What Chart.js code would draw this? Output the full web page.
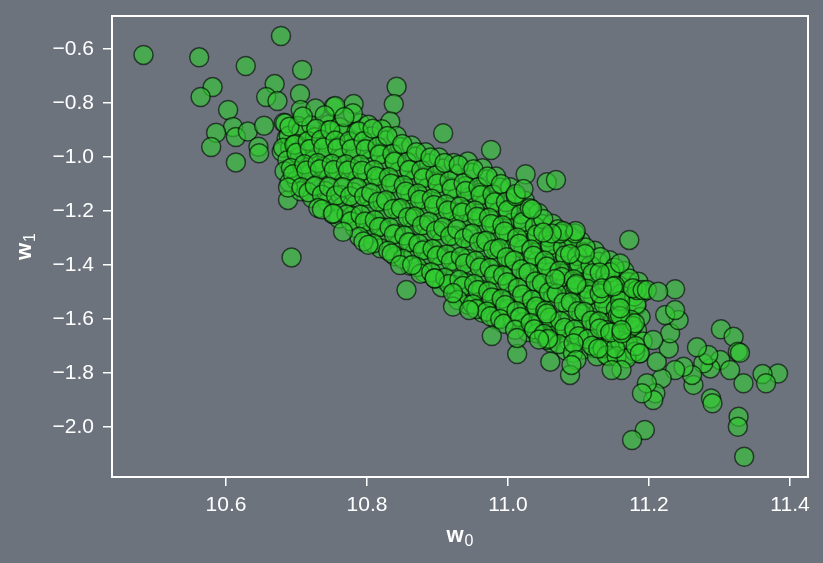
<!DOCTYPE html>
<html>
<head>
<meta charset="utf-8">
<script src="https://cdn.jsdelivr.net/npm/chart.js@4/dist/chart.umd.min.js"></script>
<style>
  html, body { margin: 0; padding: 0; background: #6c737d; }
  #wrap { width: 823px; height: 563px; }
</style>
</head>
<body>
<div id="wrap"><canvas id="posterior"></canvas></div>
<script>
// posterior draws of (w0, w1)
const upperTail = [
  [10.483,-0.622],[10.562,-0.631],[10.678,-0.552],[10.628,-0.663],[10.708,-0.678],
  [10.581,-0.741],[10.564,-0.778],[10.669,-0.730],[10.657,-0.778],[10.673,-0.793],
  [10.705,-0.767],[10.706,-0.826],[10.603,-0.826],[10.610,-0.889],[10.586,-0.910],
  [10.579,-0.963],[10.614,-0.926],[10.631,-0.906],[10.646,-0.962],[10.647,-0.986],
  [10.614,-1.020],[10.654,-0.884],[10.682,-0.873],[10.686,-0.931],[10.679,-0.980],
  [10.691,-0.966],[10.695,-1.054],[10.727,-0.820],[10.753,-0.814],[10.745,-0.881],
  [10.719,-0.919],[10.745,-0.949],[10.717,-1.017],[10.738,-1.036],[10.842,-0.740],
  [10.838,-0.804],[10.908,-0.912],[10.976,-0.974],[10.781,-0.804],[10.755,-0.811],
  [10.790,-0.875],[10.833,-0.869],[10.693,-1.372],[10.688,-1.159]
];
const lowerTail = [
  [11.025,-1.064],[11.055,-1.094],[11.068,-1.085],[11.011,-1.137],[11.022,-1.119],
  [11.034,-1.194],[11.096,-1.274],[11.078,-1.274],[11.062,-1.283],[11.050,-1.280],
  [11.172,-1.307],[11.159,-1.394],[11.237,-1.490],[11.302,-1.638],[11.320,-1.666],
  [11.326,-1.721],[11.329,-1.725],[11.383,-1.802],[11.361,-1.804],[11.366,-1.838],
  [11.334,-1.838],[11.327,-1.962],[11.326,-1.999],[11.335,-2.110],[11.194,-2.011],
  [11.176,-2.048],[11.301,-1.752],[11.315,-1.789],[11.288,-1.894],[11.290,-1.912],
  [11.287,-1.783],[11.277,-1.764],[11.284,-1.733],[11.268,-1.705],[11.263,-1.844],
  [11.261,-1.807],[11.249,-1.777],[11.237,-1.789],[11.218,-1.820],[11.209,-1.875],
  [11.206,-1.900],[11.197,-1.838],[11.190,-1.875],[11.211,-1.758],[11.228,-1.709],
  [11.230,-1.653],[11.242,-1.604],[11.223,-1.585],[11.206,-1.678],[11.197,-1.493],
  [11.213,-1.499],[11.237,-1.567]
];
const rimSamples = [
  [11.168,-1.746],[11.161,-1.789],[11.147,-1.789],[11.152,-1.709],[11.130,-1.635],
  [11.128,-1.709],[11.093,-1.690],[11.097,-1.752],[11.088,-1.807],[11.060,-1.758],
  [11.090,-1.770],[11.057,-1.673],[11.055,-1.580],[11.067,-1.452],[11.097,-1.470],
  [11.109,-1.359],[11.088,-1.359],[11.130,-1.506],[11.145,-1.427],[11.152,-1.477],
  [11.159,-1.533],[11.159,-1.589],[11.145,-1.650],[11.181,-1.700],[11.183,-1.493],
  [11.161,-1.653],[11.130,-1.428],[11.133,-1.486],[11.149,-1.480],[11.177,-1.486],
  [11.074,-1.283],[11.095,-1.283],[11.191,-1.493],[11.159,-1.560],[11.180,-1.616],
  [11.187,-1.727],[11.161,-1.641],[10.856,-1.493],[10.766,-1.277],[10.736,-1.194],
  [10.752,-1.209],[10.795,-1.313],[10.802,-1.325],[10.835,-1.357],[10.847,-1.400],
  [10.864,-1.400],[10.896,-1.449],[10.922,-1.554],[10.922,-1.504],[10.977,-1.663],
  [11.013,-1.730],[11.013,-1.670],[11.044,-1.676],[10.945,-1.567]
];
const coreSamples = [
  [10.684,-0.875],[10.689,-0.921],[10.681,-0.966],[10.687,-1.012],[10.683,-1.053],[10.690,-1.094],
  [10.702,-0.885],[10.707,-0.904],[10.699,-0.951],[10.705,-0.997],[10.709,-1.038],[10.700,-1.086],[10.706,-1.127],
  [10.721,-0.883],[10.726,-0.927],[10.718,-0.972],[10.724,-1.013],[10.719,-1.061],[10.727,-1.104],[10.722,-1.152],
  [10.740,-0.845],[10.745,-0.902],[10.737,-0.944],[10.743,-0.991],[10.738,-1.037],[10.746,-1.078],[10.741,-1.126],[10.744,-1.168],
  [10.761,-0.890],[10.766,-0.913],[10.758,-0.962],[10.764,-1.004],[10.759,-1.052],[10.767,-1.093],[10.762,-1.141],[10.765,-1.184],[10.760,-1.228],
  [10.780,-0.838],[10.785,-0.907],[10.777,-0.948],[10.783,-0.996],[10.778,-1.042],[10.786,-1.083],[10.781,-1.131],[10.784,-1.176],[10.779,-1.218],[10.783,-1.262],
  [10.802,-0.881],[10.807,-0.923],[10.799,-0.972],[10.805,-1.014],[10.800,-1.061],[10.808,-1.103],[10.803,-1.152],[10.806,-1.193],[10.801,-1.242],[10.805,-1.283],
  [10.821,-0.897],[10.826,-0.939],[10.818,-0.987],[10.824,-1.028],[10.819,-1.076],[10.827,-1.118],[10.822,-1.166],[10.825,-1.208],[10.820,-1.257],[10.824,-1.298],[10.819,-1.338],
  [10.842,-0.922],[10.847,-0.963],[10.839,-1.012],[10.845,-1.053],[10.840,-1.102],[10.848,-1.143],[10.843,-1.192],[10.846,-1.233],[10.841,-1.282],[10.845,-1.323],[10.840,-1.368],
  [10.863,-0.957],[10.868,-0.998],[10.860,-1.047],[10.866,-1.088],[10.861,-1.137],[10.869,-1.178],[10.864,-1.227],[10.867,-1.268],[10.862,-1.317],[10.866,-1.358],[10.861,-1.403],
  [10.883,-0.982],[10.888,-1.023],[10.880,-1.072],[10.886,-1.113],[10.881,-1.162],[10.889,-1.203],[10.884,-1.252],[10.887,-1.293],[10.882,-1.342],[10.886,-1.383],[10.881,-1.428],
  [10.902,-1.002],[10.907,-1.043],[10.899,-1.092],[10.905,-1.133],[10.900,-1.182],[10.908,-1.223],[10.903,-1.272],[10.906,-1.313],[10.901,-1.362],[10.905,-1.403],[10.900,-1.452],[10.906,-1.482],
  [10.923,-1.022],[10.928,-1.063],[10.920,-1.112],[10.926,-1.153],[10.921,-1.202],[10.929,-1.243],[10.924,-1.292],[10.927,-1.333],[10.922,-1.382],[10.926,-1.423],[10.921,-1.472],[10.927,-1.508],
  [10.943,-1.017],[10.948,-1.058],[10.940,-1.107],[10.946,-1.148],[10.941,-1.197],[10.949,-1.238],[10.944,-1.287],[10.947,-1.328],[10.942,-1.377],[10.946,-1.418],[10.941,-1.467],[10.947,-1.508],[10.943,-1.547],
  [10.964,-1.042],[10.969,-1.083],[10.961,-1.132],[10.967,-1.173],[10.962,-1.222],[10.970,-1.263],[10.965,-1.312],[10.968,-1.353],[10.963,-1.402],[10.967,-1.443],[10.962,-1.492],[10.968,-1.533],[10.964,-1.577],
  [10.983,-1.072],[10.988,-1.113],[10.980,-1.162],[10.986,-1.203],[10.981,-1.252],[10.989,-1.293],[10.984,-1.342],[10.987,-1.383],[10.982,-1.432],[10.986,-1.473],[10.981,-1.522],[10.987,-1.563],[10.983,-1.602],
  [11.003,-1.112],[11.008,-1.153],[11.000,-1.202],[11.006,-1.243],[11.001,-1.292],[11.009,-1.333],[11.004,-1.382],[11.007,-1.423],[11.002,-1.472],[11.006,-1.513],[11.001,-1.562],[11.007,-1.603],
  [11.024,-1.162],[11.029,-1.203],[11.021,-1.252],[11.027,-1.293],[11.022,-1.342],[11.030,-1.383],[11.025,-1.432],[11.028,-1.473],[11.023,-1.522],[11.027,-1.563],[11.022,-1.612],[11.028,-1.648],
  [11.043,-1.207],[11.048,-1.248],[11.040,-1.297],[11.046,-1.338],[11.041,-1.387],[11.049,-1.428],[11.044,-1.477],[11.047,-1.518],[11.042,-1.567],[11.046,-1.608],[11.041,-1.653],
  [11.063,-1.247],[11.068,-1.288],[11.060,-1.337],[11.066,-1.378],[11.061,-1.427],[11.069,-1.468],[11.064,-1.517],[11.067,-1.558],[11.062,-1.607],[11.066,-1.648],[11.061,-1.688],
  [11.084,-1.282],[11.089,-1.323],[11.081,-1.372],[11.087,-1.413],[11.082,-1.462],[11.090,-1.503],[11.085,-1.552],[11.088,-1.593],[11.083,-1.642],[11.087,-1.683],[11.082,-1.717],
  [11.103,-1.312],[11.108,-1.353],[11.100,-1.402],[11.106,-1.443],[11.101,-1.492],[11.109,-1.533],[11.104,-1.582],[11.107,-1.623],[11.102,-1.672],[11.106,-1.713],
  [11.123,-1.347],[11.128,-1.388],[11.120,-1.437],[11.126,-1.478],[11.121,-1.527],[11.129,-1.568],[11.124,-1.617],[11.127,-1.658],[11.122,-1.707],[11.126,-1.738],
  [11.144,-1.382],[11.149,-1.423],[11.141,-1.472],[11.147,-1.513],[11.142,-1.562],[11.150,-1.603],[11.145,-1.652],[11.148,-1.693],[11.143,-1.738],
  [11.165,-1.422],[11.170,-1.463],[11.162,-1.512],[11.168,-1.553],[11.163,-1.602],[11.171,-1.643],[11.166,-1.692],[11.169,-1.733],
  [11.185,-1.462],[11.190,-1.503],[11.182,-1.552],[11.188,-1.593],[11.183,-1.642],[11.191,-1.683],[11.186,-1.728]
];
const coreSamplesB = [
  [10.690,-0.888],[10.697,-0.955],[10.700,-0.984],[10.692,-1.041],[10.695,-1.064],[10.688,-1.113],
  [10.709,-0.850],[10.716,-0.941],[10.719,-0.970],[10.711,-1.027],[10.714,-1.050],[10.707,-1.112],[10.717,-1.131],
  [10.728,-0.895],[10.735,-0.936],[10.738,-0.965],[10.730,-1.022],[10.733,-1.045],[10.726,-1.107],[10.736,-1.140],[10.731,-1.189],
  [10.748,-0.900],[10.755,-0.939],[10.758,-0.968],[10.750,-1.025],[10.753,-1.048],[10.746,-1.110],[10.756,-1.143],[10.751,-1.211],
  [10.768,-0.852],[10.775,-0.941],[10.778,-0.970],[10.770,-1.027],[10.773,-1.050],[10.766,-1.112],[10.776,-1.145],[10.771,-1.213],[10.777,-1.238],
  [10.788,-0.905],[10.795,-0.942],[10.798,-0.971],[10.790,-1.028],[10.793,-1.051],[10.786,-1.113],[10.796,-1.146],[10.791,-1.214],[10.797,-1.239],[10.789,-1.295],
  [10.808,-0.895],[10.815,-0.962],[10.818,-0.991],[10.810,-1.048],[10.813,-1.071],[10.806,-1.133],[10.816,-1.166],[10.811,-1.234],[10.817,-1.259],[10.809,-1.320],
  [10.829,-0.922],[10.836,-0.989],[10.839,-1.018],[10.831,-1.075],[10.834,-1.098],[10.827,-1.160],[10.837,-1.193],[10.832,-1.261],[10.838,-1.286],[10.830,-1.347],
  [10.850,-0.952],[10.857,-1.019],[10.860,-1.048],[10.852,-1.105],[10.855,-1.128],[10.848,-1.190],[10.858,-1.223],[10.853,-1.291],[10.859,-1.316],[10.851,-1.377],
  [10.870,-0.982],[10.877,-1.049],[10.880,-1.078],[10.872,-1.135],[10.875,-1.158],[10.868,-1.220],[10.878,-1.253],[10.873,-1.321],[10.879,-1.346],[10.871,-1.407],[10.876,-1.432],
  [10.890,-1.002],[10.897,-1.069],[10.900,-1.098],[10.892,-1.155],[10.895,-1.178],[10.888,-1.240],[10.898,-1.273],[10.893,-1.341],[10.899,-1.366],[10.891,-1.427],[10.896,-1.450],
  [10.910,-1.022],[10.917,-1.089],[10.920,-1.118],[10.912,-1.175],[10.915,-1.198],[10.908,-1.260],[10.918,-1.293],[10.913,-1.361],[10.919,-1.386],[10.911,-1.447],[10.916,-1.470],
  [10.930,-1.030],[10.937,-1.097],[10.940,-1.126],[10.932,-1.183],[10.935,-1.206],[10.928,-1.268],[10.938,-1.301],[10.933,-1.369],[10.939,-1.394],[10.931,-1.455],[10.936,-1.478],[10.929,-1.530],
  [10.951,-1.045],[10.958,-1.112],[10.961,-1.141],[10.953,-1.198],[10.956,-1.221],[10.949,-1.283],[10.959,-1.316],[10.954,-1.384],[10.960,-1.409],[10.952,-1.470],[10.957,-1.493],[10.950,-1.545],[10.955,-1.563],
  [10.971,-1.072],[10.978,-1.139],[10.981,-1.168],[10.973,-1.225],[10.976,-1.248],[10.969,-1.310],[10.979,-1.343],[10.974,-1.411],[10.980,-1.436],[10.972,-1.497],[10.977,-1.520],[10.970,-1.572],[10.975,-1.590],
  [10.990,-1.100],[10.997,-1.167],[11.000,-1.196],[10.992,-1.253],[10.995,-1.276],[10.988,-1.338],[10.998,-1.371],[10.993,-1.439],[10.999,-1.464],[10.991,-1.525],[10.996,-1.548],[10.989,-1.600],[10.994,-1.618],
  [11.011,-1.145],[11.018,-1.212],[11.021,-1.241],[11.013,-1.298],[11.016,-1.321],[11.009,-1.383],[11.019,-1.416],[11.014,-1.484],[11.020,-1.509],[11.012,-1.570],[11.017,-1.593],[11.010,-1.640],
  [11.031,-1.190],[11.038,-1.257],[11.041,-1.286],[11.033,-1.343],[11.036,-1.366],[11.029,-1.428],[11.039,-1.461],[11.034,-1.529],[11.040,-1.554],[11.032,-1.615],[11.037,-1.638],
  [11.050,-1.230],[11.057,-1.297],[11.060,-1.326],[11.052,-1.383],[11.055,-1.406],[11.048,-1.468],[11.058,-1.501],[11.053,-1.569],[11.059,-1.594],[11.051,-1.655],[11.056,-1.678],
  [11.071,-1.268],[11.078,-1.335],[11.081,-1.364],[11.073,-1.421],[11.076,-1.444],[11.069,-1.506],[11.079,-1.539],[11.074,-1.607],[11.080,-1.632],[11.072,-1.693],
  [11.091,-1.300],[11.098,-1.367],[11.101,-1.396],[11.093,-1.453],[11.096,-1.476],[11.089,-1.538],[11.099,-1.571],[11.094,-1.639],[11.100,-1.664],[11.092,-1.725],
  [11.110,-1.335],[11.117,-1.402],[11.120,-1.431],[11.112,-1.488],[11.115,-1.511],[11.108,-1.573],[11.118,-1.606],[11.113,-1.674],[11.119,-1.699],
  [11.131,-1.370],[11.138,-1.437],[11.141,-1.466],[11.133,-1.523],[11.136,-1.546],[11.129,-1.608],[11.139,-1.641],[11.134,-1.709],[11.140,-1.734],
  [11.151,-1.410],[11.158,-1.477],[11.161,-1.506],[11.153,-1.563],[11.156,-1.586],[11.149,-1.648],[11.159,-1.681],[11.154,-1.738],
  [11.172,-1.450],[11.179,-1.517],[11.182,-1.546],[11.174,-1.603],[11.177,-1.626],[11.170,-1.688],[11.180,-1.721]
];

const w0Ticks = [10.6, 10.8, 11.0, 11.2, 11.4];
const w1Ticks = [-2.0, -1.8, -1.6, -1.4, -1.2, -1.0, -0.8, -0.6];

const FONT = '"Liberation Sans", Arial, sans-serif';
const allSamples = upperTail.concat(coreSamples, coreSamplesB, rimSamples, lowerTail);
const points = allSamples.map(p => ({ x: p[0], y: p[1] }));

function fmt(v) {
    return v.toFixed(1).replace('-', '\u2212');
}

// frame round the plot and the two axis labels with subscripts
const frameAndLabels = {
    id: 'frameAndLabels',
    afterDraw(chart) {
        const ctx = chart.ctx;
        const a = chart.chartArea;
        ctx.save();
        ctx.strokeStyle = '#ffffff';
        ctx.lineWidth = 2;
        ctx.strokeRect(a.left, a.top, a.right - a.left, a.bottom - a.top);
        ctx.restore();

        drawLabel(ctx, 'w', '0', (a.left + a.right) / 2, 542, 0);
        drawLabel(ctx, 'w', '1', 31, (a.top + a.bottom) / 2, -Math.PI / 2);
    }
};

function drawLabel(ctx, main, sub, x, y, rot) {
    ctx.save();
    ctx.translate(x, y);
    ctx.rotate(rot);
    ctx.fillStyle = '#ffffff';
    ctx.textBaseline = 'alphabetic';
    ctx.textAlign = 'left';
    ctx.font = 'bold 22px ' + FONT;
    const mw = ctx.measureText(main).width;
    ctx.font = '16px ' + FONT;
    const sw = ctx.measureText(sub).width;
    const start = -(mw + sw + 1) / 2;
    ctx.font = 'bold 22px ' + FONT;
    ctx.fillText(main, start, 0);
    ctx.font = '16px ' + FONT;
    ctx.fillText(sub, start + mw + 1, 4);
    ctx.restore();
}

const ctx = document.getElementById('posterior').getContext('2d');
new Chart(ctx, {
    type: 'scatter',
    data: {
        datasets: [{
            label: 'posterior',
            data: points,
            backgroundColor: 'rgba(50, 205, 50, 0.6)',
            borderColor: 'rgba(0, 0, 0, 0.6)',
            borderWidth: 1.5,
            pointRadius: 9.5,
            pointHoverRadius: 9.5
        }]
    },
    options: {
        responsive: true,
        maintainAspectRatio: false,
        animation: false,
        events: [],
        layout: { padding: { top: 16, right: 15, left: 0, bottom: 0 }, autoPadding: false },
        plugins: { legend: { display: false }, tooltip: { enabled: false } },
        scales: {
            x: {
                type: 'linear',
                min: 10.4383,
                max: 11.4255,
                afterFit: s => { s.height = 86; s.paddingLeft = 0; s.paddingRight = 0; },
                afterBuildTicks: s => { s.ticks = w0Ticks.map(v => ({ value: v })); },
                border: { display: false },
                grid: { drawOnChartArea: false, drawTicks: true, tickLength: 9, color: '#ffffff', lineWidth: 1.5 },
                ticks: { color: '#ffffff', padding: 7, font: { family: FONT, size: 21 }, callback: v => fmt(v) }
            },
            y: {
                type: 'linear',
                min: -2.1852,
                max: -0.4778,
                afterFit: s => { s.width = 112; s.paddingTop = 0; s.paddingBottom = 0; },
                afterBuildTicks: s => { s.ticks = w1Ticks.map(v => ({ value: v })); },
                border: { display: false },
                grid: { drawOnChartArea: false, drawTicks: true, tickLength: 9, color: '#ffffff', lineWidth: 1.5 },
                ticks: { color: '#ffffff', padding: 9, font: { family: FONT, size: 21 }, callback: v => fmt(v) }
            }
        }
    },
    plugins: [frameAndLabels]
});
</script>
</body>
</html>
